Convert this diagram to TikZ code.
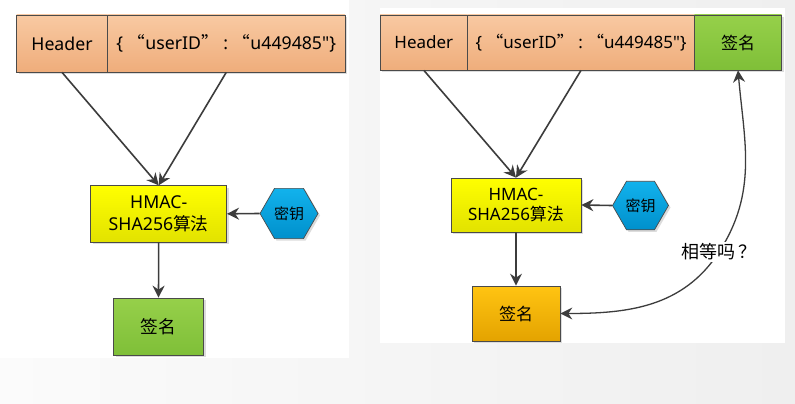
\documentclass[tikz,border=0pt]{standalone}
\usepackage{fontspec}
\setmainfont{Noto Sans}[Ligatures=TeXOff]
\newfontfamily\cjkf{Noto Sans CJK SC}
\usetikzlibrary{arrows.meta,shapes.geometric,shadows}
\definecolor{peachT}{HTML}{F8C9A2}
\definecolor{peachB}{HTML}{EFAD7B}
\definecolor{greenT}{HTML}{96D04A}
\definecolor{greenB}{HTML}{7FBF38}
\definecolor{yelT}{HTML}{FFFF00}
\definecolor{yelB}{HTML}{E2E200}
\definecolor{blueT}{HTML}{12B2EC}
\definecolor{blueB}{HTML}{0090CC}
\definecolor{orT}{HTML}{FFC412}
\definecolor{orB}{HTML}{E4A300}
\definecolor{edgec}{HTML}{4A4A4A}
\definecolor{arrc}{HTML}{3C3C3C}
\definecolor{bgL}{HTML}{FBFBFB}
\definecolor{bgR}{HTML}{EFEFEF}
\begin{document}
\begin{tikzpicture}[x=1pt,y=-1pt,
  base/.style={draw=edgec, line width=0.7pt, inner sep=0pt, anchor=center,
    text=black, align=center,
    drop shadow={shadow xshift=2pt, shadow yshift=-2pt, fill=black!30, opacity=0.45}},
  bigtxt/.style={font=\fontsize{17.7}{21.5}\selectfont},
  smalltxt/.style={font=\fontsize{17}{20.5}\selectfont},
  cjkbig/.style={font=\cjkf\fontsize{17.7}{21.5}\selectfont},
  cjksmall/.style={font=\cjkf\fontsize{17}{20.5}\selectfont},
  peach/.style={base, top color=peachT, bottom color=peachB},
  greenbox/.style={base, top color=greenT, bottom color=greenB},
  yelbox/.style={base, top color=yelT, bottom color=yelB},
  orbox/.style={base, top color=orT, bottom color=orB},
  hexa/.style={base, regular polygon, regular polygon sides=6,
    top color=blueT, bottom color=blueB, font=\cjkf\fontsize{15}{17}\selectfont},
  conn/.style={draw=arrc, line width=1.6pt,
    -{Stealth[length=12pt,width=12pt,inset=4pt]}},
  curvec/.style={draw=arrc, line width=1.3pt,
    {Stealth[length=12pt,width=12pt,inset=4pt]}-{Stealth[length=12pt,width=12pt,inset=4pt]}}
]
\path[use as bounding box] (0,0) rectangle (795,404);
\shade[left color=bgL, right color=bgR] (0,0) rectangle (795,404);
\fill[white] (0,0) rectangle (349,358);
\fill[white] (380,8) rectangle (785,343);

% ---------- left diagram ----------
\node[peach, bigtxt, minimum width=91pt, minimum height=57pt] (hdrL) at (62,43.5) {Header};
\node[peach, bigtxt, minimum width=237.5pt, minimum height=57pt] (jsonL) at (226.25,43.5) {\{ {\cjkf “}userID{\cjkf ”} : {\cjkf “}u449485"\}};
\node[yelbox, bigtxt, minimum width=136pt, minimum height=56.3pt] (hmacL) at (158.7,213.8) {HMAC-\\SHA256{\cjkf 算法}};
\node[hexa, minimum size=58pt] (keyL) at (289,213.5) {密钥};
\node[greenbox, cjkbig, minimum width=90pt, minimum height=57pt] (sigL) at (158.5,326.5) {签名};

\draw[conn] (hdrL.south) -- (hmacL.north);
\draw[conn] (jsonL.south) -- (hmacL.north);
\draw[conn] (keyL.west) -- (hmacL.east);
\draw[conn] (hmacL.south) -- (sigL.north);

% ---------- right diagram ----------
\node[peach, smalltxt, minimum width=87.7pt, minimum height=55pt] (hdrR) at (423.85,42.5) {Header};
\node[peach, smalltxt, minimum width=226.6pt, minimum height=55pt] (jsonR) at (581,42.5) {\{ {\cjkf “}userID{\cjkf ”} : {\cjkf “}u449485"\}};
\node[greenbox, cjksmall, minimum width=87.4pt, minimum height=55pt] (sigTop) at (738,42.5) {签名};
\node[yelbox, smalltxt, minimum width=130pt, minimum height=54pt] (hmacR) at (516,205) {HMAC-\\SHA256{\cjkf 算法}};
\node[hexa, minimum size=56pt] (keyR) at (640.5,205.5) {密钥};
\node[orbox, cjksmall, minimum width=88pt, minimum height=55pt] (sigR) at (516,313.5) {签名};

\draw[conn] (hdrR.south) -- (hmacR.north);
\draw[conn] (jsonR.south) -- (hmacR.north);
\draw[conn] (keyR.west) -- (hmacR.east);
\draw[conn] (hmacR.south) -- (sigR.north);

\coordinate (mid) at (719,252);
\draw[curvec] (sigR.east) to[out=0,in=-123] (mid) to[out=57,in=-85] (sigTop.south);
\node[fill=white, inner sep=2pt, font=\cjkf\fontsize{18}{20}\selectfont] (lbl) at (mid) {相等吗\hspace{3pt}？};
\end{tikzpicture}
\end{document}
